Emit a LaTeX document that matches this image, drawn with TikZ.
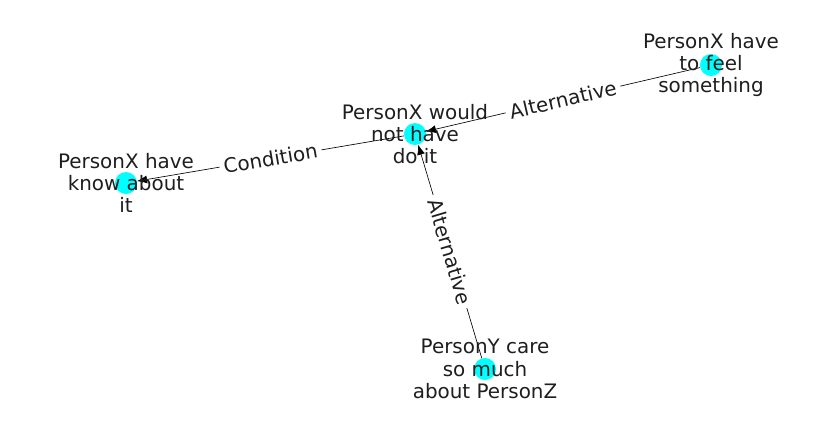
\documentclass[tikz,border=0pt]{standalone}
\usepackage{fontspec}
\setmainfont{DejaVu Sans}
\usetikzlibrary{arrows.meta}

\definecolor{nodecyan}{RGB}{0,255,255}
\definecolor{inkgray}{RGB}{30,30,30}

\tikzset{
  dot/.style={circle,fill=nodecyan,minimum size=0.66cm,inner sep=0pt},
  nodetext/.style={align=center,text=inkgray,font=\fontsize{17}{19}\selectfont},
  edgelabel/.style={fill=white,inner sep=3.5pt,text=inkgray,font=\fontsize{17}{19}\selectfont,sloped},
  rel/.style={-{Latex[length=3mm,width=2.4mm]},black,line width=0.55pt}
}

\begin{document}
\begin{tikzpicture}[x=0.03cm,y=-0.03cm]
\useasboundingbox (0,0) rectangle (837,434);
% nodes
\node[dot] (notdo) at (415,134) {};
\node[dot] (know) at (126,183) {};
\node[dot] (feel) at (711,65) {};
\node[dot] (care) at (485,369) {};
% edges
\draw[rel] (feel) -- node[edgelabel] {Alternative} (notdo);
\draw[rel] (notdo) -- node[edgelabel] {Condition} (know);
\draw[rel] (care) -- node[edgelabel] {Alternative} (notdo);
% texts
\node[nodetext] at (notdo) {PersonX would\\not have\\do it};
\node[nodetext] at (know) {PersonX have\\know about\\it};
\node[nodetext] at (feel) {PersonX have\\to feel\\something};
\node[nodetext] at (care) {PersonY care\\so much\\about PersonZ};
\end{tikzpicture}
\end{document}
